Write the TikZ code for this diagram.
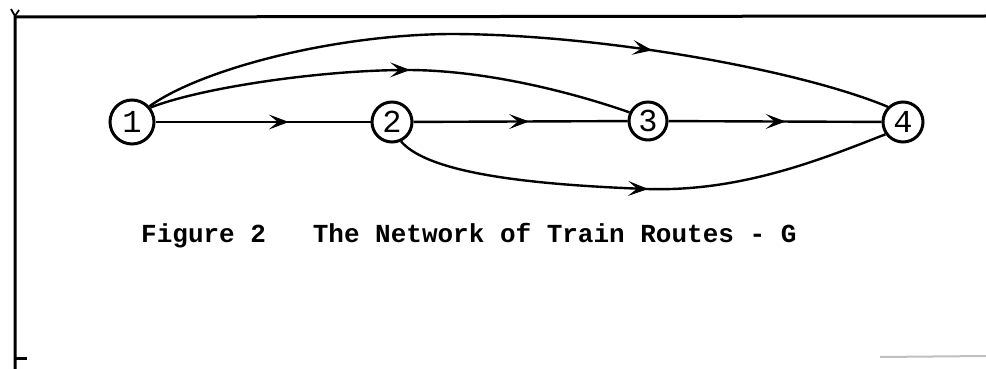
\documentclass[tikz,border=0pt]{standalone}
\usepackage{fontspec}
\setmonofont{Liberation Mono}
\usetikzlibrary{arrows.meta,decorations.markings}
\tikzset{
  x=1pt,y=-1pt,
  vertex/.style={circle,draw,line width=3pt,minimum size=40pt,inner sep=0pt,font=\ttfamily\fontsize{32}{32}\selectfont},
  edge/.style={line width=2.4pt},
  midarrow/.style={postaction={decorate},decoration={markings,mark=at position #1 with {\arrow{Stealth[length=20pt,width=15pt,inset=9pt,line width=1pt]}}}},
  frame/.style={line width=3pt},
  caption/.style={font=\ttfamily\bfseries\fontsize{26}{26}\selectfont,inner sep=0pt,anchor=base west}
}
\begin{document}
\begin{tikzpicture}
\useasboundingbox (0,0) rectangle (986,369);
% frame
\coordinate (tl) at (15,17);
\coordinate (tr) at (986,16);
\coordinate (bl) at (15,369);
\draw[frame] (tr) -- (tl) -- (bl);
\draw[line width=1.8pt] (11,9) -- (15,16) -- (19,10);
\draw[line width=3pt] (15,358) -- (27,358);
\draw[line width=2pt,black!25] (880,357) -- (986,356);
% nodes
\node[vertex,minimum size=44pt] (n1) at (132,122) {1};
\node[vertex] (n2) at (392,122) {2};
\node[vertex,minimum size=38pt] (n3) at (648,121) {3};
\node[vertex] (n4) at (903,122) {4};
% straight edges
\draw[edge,midarrow=0.62] (n1) -- (n2);
\draw[edge,midarrow=0.54] (n2) -- (n3);
\draw[edge,midarrow=0.55] (n3) -- (n4);
% curved edges
\draw[edge,midarrow=0.54] (n1.38) .. controls (200,88) and (320,70) .. (407,70)
   .. controls (490,70) and (580,95) .. (n3.155);
\draw[edge,midarrow=0.68] (n1.42) .. controls (200,70) and (330,35) .. (450,34)
   .. controls (600,34) and (800,70) .. (n4.135);
\draw[edge,midarrow=0.51] (n2.-65) .. controls (430,175) and (540,185) .. (647,189)
   .. controls (740,192) and (820,160) .. (n4.-145);
% caption
\node[caption] (cap) at (141,242) {Figure 2\ \ \ The Network of Train Routes - G};
\end{tikzpicture}
\end{document}
